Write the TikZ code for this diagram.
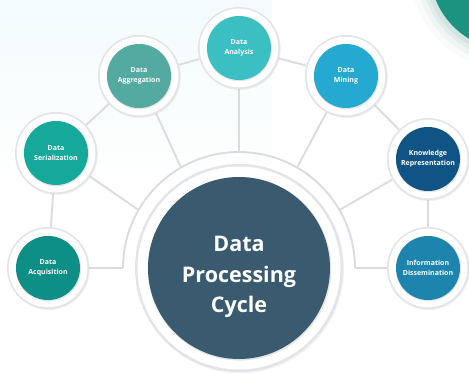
\documentclass[tikz,border=0pt]{standalone}
\usepackage{fontspec}
\setmainfont{Open Sans}
\usetikzlibrary{calc,shadows}

\definecolor{linegray}{HTML}{DADCE1}
\definecolor{ringgray}{HTML}{E3E4E7}
\definecolor{cAna}{HTML}{3BBFC2}
\definecolor{cAgg}{HTML}{53AAA0}
\definecolor{cSer}{HTML}{15A99B}
\definecolor{cAcq}{HTML}{0E8F85}
\definecolor{cMin}{HTML}{25A9D1}
\definecolor{cKno}{HTML}{0F5484}
\definecolor{cInf}{HTML}{1D84AD}
\definecolor{cMain}{HTML}{3A5A6F}
\definecolor{cCorner}{HTML}{1A9480}
\definecolor{tint}{HTML}{F3FBFC}

\pgfdeclarelayer{back}
\pgfdeclarelayer{links}
\pgfsetlayers{back,links,main}

\begin{document}
\begin{tikzpicture}[x=1pt,y=1pt,
  link/.style={draw=linegray, line width=1.9pt},
  sat/.style={circle, minimum size=82pt, inner sep=0pt, fill=ringgray,
    text=white, align=center,
    font=\bfseries\fontsize{7}{10.2}\selectfont,
    drop shadow={shadow xshift=0.8pt, shadow yshift=-1pt, opacity=0.12},
    path picture={
      \fill[white] (path picture bounding box.center) circle (39.3pt);
      \fill[black!10] ([xshift=0.5pt,yshift=-0.7pt]path picture bounding box.center) circle (32.6pt);
      \fill[#1] (path picture bounding box.center) circle (32pt);
    }},
  hub/.style={circle, minimum size=208pt, inner sep=0pt, fill=ringgray,
    drop shadow={shadow xshift=1pt, shadow yshift=-1.2pt, opacity=0.10},
    path picture={
      \fill[white] (path picture bounding box.center) circle (101.5pt);
      \fill[black!10] ([xshift=0.6pt,yshift=-0.8pt]path picture bounding box.center) circle (91.8pt);
      \fill[#1] (path picture bounding box.center) circle (91pt);
    }},
  hubtext/.style={text=white, align=center,
    font=\bfseries\fontsize{21.5}{30.5}\selectfont},
]
\useasboundingbox (0,0) rectangle (469,373);

% page background: faint tint and the corner disc
\begin{pgfonlayer}{back}
  \fill[white] (0,0) rectangle (469,373);
  \shade[top color=tint, bottom color=white] (0,180) rectangle (272,373);
  \begin{scope}
    \clip (0,0) rectangle (469,373);
    \foreach \r/\o in {100/0.03,94/0.05,89/0.07,85/0.09} {
      \fill[cCorner!60!gray, opacity=\o] (510,403) circle (\r);
    }
    \fill[cCorner] (510,403) circle (80);
  \end{scope}
\end{pgfonlayer}

% hub and stages
\node[hub=cMain] (main) at (239,105) {};
\node[hubtext] (title) at ($(main.center)+(0,-9)$) {Data\\Processing\\Cycle};

\node[sat=cAcq] (acq) at (48,105)  {Data\\Acquisition};
\node[sat=cSer] (ser) at (56,220)  {Data\\Serialization};
\node[sat=cAgg] (agg) at (139,297) {Data\\Aggregation};
\node[sat=cAna] (ana) at (239,325) {Data\\Analysis};
\node[sat=cMin] (min) at (346,297) {Data\\Mining};
\node[sat=cKno] (kno) at (428,214) {Knowledge\\Representation};
\node[sat=cInf] (inf) at (428,105) {Information\\Dissemination};

% points on the outer arc around the hub
\foreach \a in {0,30,60,90,120,150,180}
  \coordinate (a\a) at ($(main.center)+(\a:116)$);

\begin{pgfonlayer}{links}
  \draw[link] (a180) arc[start angle=180, end angle=0, radius=116];
  \draw[link] (acq) -- (a180);
  \draw[link] (inf) -- (a0);
  \draw[link] (ser) -- (a150);
  \draw[link] (agg) -- (a120);
  \draw[link] (ana) -- (a90);
  \draw[link] (min) -- (a60);
  \draw[link] (kno) -- (a30);
  \draw[link] (acq) -- (ser);
  \draw[link] (ser) -- (agg);
  \draw[link] (agg) -- (ana);
  \draw[link] (ana) -- (min);
  \draw[link] (min) -- (kno);
  \draw[link] (kno) -- (inf);
\end{pgfonlayer}
\end{tikzpicture}
\end{document}
